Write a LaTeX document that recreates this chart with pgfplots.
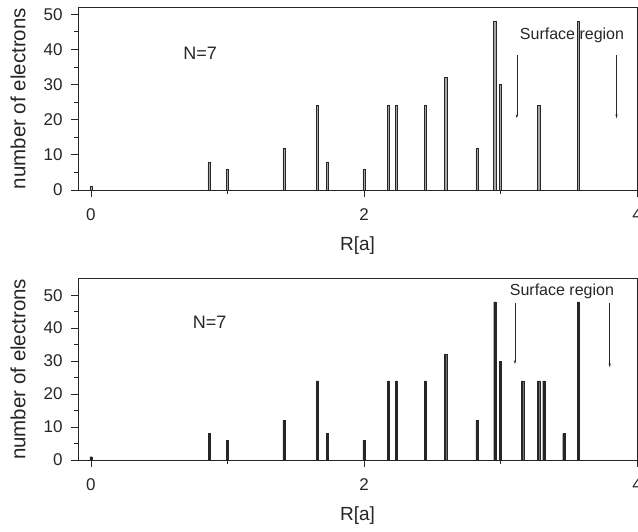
\documentclass[border=0pt]{standalone}
\usepackage{fontspec}
\setmainfont{Liberation Sans}
\usepackage{pgfplots}
\pgfplotsset{compat=1.18}
\usetikzlibrary{arrows.meta}

\definecolor{ink}{HTML}{262626}

\pgfplotsset{
  shellaxis/.style={
    scale only axis, width=559pt,
    xmin=-0.095, xmax=4, ymin=0,
    axis line style={ink, line width=0.8pt},
    xtick={0,2,4}, minor xtick={1,3},
    ytick={0,10,...,50}, minor ytick={5,15,...,45},
    xtick pos=lower, ytick pos=left,
    tick align=outside, major tick length=7pt, minor tick length=4pt,
    every tick/.style={ink, line width=0.8pt},
    ticklabel style={font=\fontsize{17}{20}\selectfont, text=ink},
    xticklabel style={yshift=-8pt},
    yticklabel style={xshift=-5pt},
    /pgf/number format/assume math mode=true,
    xlabel={R[a]}, ylabel={number of electrons},
    xlabel style={font=\fontsize{19}{22}\selectfont, text=ink,
      at={(axis description cs:0.5,-0.305)}, anchor=center},
    ylabel style={font=\fontsize{20.5}{24}\selectfont, text=ink,
      at={(axis description cs:-0.1073,0.5)}, anchor=center},
    clip=false,
  },
}
\tikzset{surf/.style={-{Stealth[length=4pt,width=2.2pt]}, ink, line width=0.6pt}}

\begin{document}
\begin{tikzpicture}
\path[use as bounding box] (0,0) rectangle (638pt,531pt);

% upper panel
\begin{axis}[shellaxis, at={(78pt,341pt)}, anchor=south west,
  height=182.7pt, ymax=52]
  \node[font=\fontsize{18}{21}\selectfont, text=ink] at (axis cs:0.80,38.9) {N=7};
  \node[font=\fontsize{16}{19}\selectfont, text=ink] at (axis cs:3.524,44.1) {Surface region};
  \addplot[ybar, bar width=2.4pt, fill=gray!70, draw=ink, line width=0.5pt]
  coordinates {
    (0,1) (0.866,8) (1,6) (1.414,12) (1.658,24) (1.732,8) (2,6)
    (2.179,24) (2.236,24) (2.449,24) (2.598,32) (2.828,12)
    (2.958,48) (3,30) (3.279,24) (3.571,48)
  };
  \draw[surf] (axis cs:3.12,38.4) -- (axis cs:3.12,20.4);
  \draw[surf] (axis cs:3.85,38.4) -- (axis cs:3.85,20.4);
\end{axis}

% lower panel
\begin{axis}[shellaxis, at={(78pt,71pt)}, anchor=south west,
  height=181.3pt, ymax=55]
  \addplot[ybar, bar width=2.2pt, fill=ink, draw=ink, line width=0.3pt]
  coordinates {
    (0,1) (0.866,8) (1,6) (1.414,12) (1.658,24) (1.732,8) (2,6)
    (2.179,24) (2.236,24) (2.449,24) (2.598,32) (2.828,12)
    (2.958,48) (3,30) (3.162,24) (3.279,24) (3.317,24) (3.464,8)
    (3.571,48)
  };
  \node[font=\fontsize{18}{21}\selectfont, text=ink] at (axis cs:0.87,41.9) {N=7};
  \node[font=\fontsize{16}{19}\selectfont, text=ink] at (axis cs:3.45,51.3) {Surface region};
  \draw[surf] (axis cs:3.106,47.5) -- (axis cs:3.106,29.1);
  \draw[surf] (axis cs:3.80,47.5) -- (axis cs:3.80,28.1);
\end{axis}
\end{tikzpicture}
\end{document}
